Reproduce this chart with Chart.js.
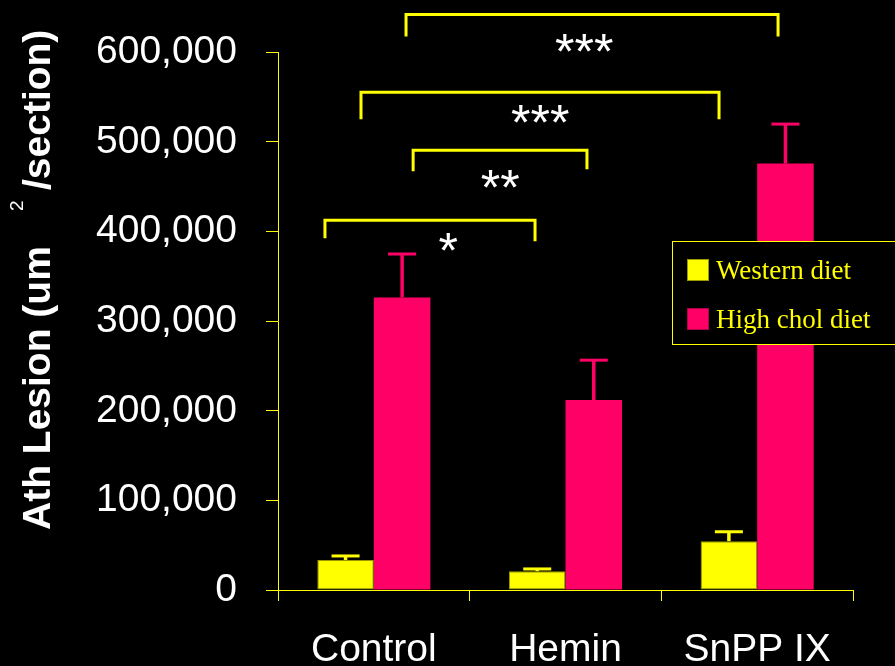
<!DOCTYPE html>
<html>
<head>
<meta charset="utf-8">
<title>Ath Lesion by treatment</title>
<script src="https://cdn.jsdelivr.net/npm/chart.js@4"></script>
<style>
  html, body { margin: 0; padding: 0; background: #000; }
  canvas { display: block; }
</style>
</head>
<body>
<canvas id="chart" width="895" height="666"></canvas>
<script>
// Treatment groups
const categories = ['Control', 'Hemin', 'SnPP IX'];

// Mean lesion area (um^2/section) and upper error (SEM) per diet
const westernDiet = [33500, 21000, 54500];
const westernErr = [4500, 2500, 10500];
const highCholDiet = [326500, 212000, 476000];
const highCholErr = [48500, 44500, 44000];

const seriesNames = ['Western diet', 'High chol diet'];
const seriesColors = ['#FFFF00', '#FF0066'];

// Y axis ticks
const yTicks = [0, 100000, 200000, 300000, 400000, 500000, 600000];

// Significance comparisons: span in category units, bracket height and leg ends in data units
const sigFrom = [0.168, -0.067, 0.205, -0.255];
const sigTo = [2.109, 1.801, 1.112, 0.841];
const sigLevel = [642400, 555400, 490700, 412600];
const sigLegFrom = [617800, 525300, 467300, 392500];
const sigLegTo = [617800, 525300, 469500, 389200];
const sigMarks = ['***', '***', '**', '*'];
const sigMarkPos = [1.098, 0.868, 0.659, 0.388];
const sigMarkLevel = [613000, 534000, 461500, 391300];

const SANS = '"Liberation Sans", Arial, Helvetica, sans-serif';
const SERIF = '"Liberation Serif", "Times New Roman", serif';

function catPixel(xScale, pos) {
  const a = xScale.getPixelForValue(0);
  const b = xScale.getPixelForValue(1);
  return a + pos * (b - a);
}

const backgroundPlugin = {
  id: 'blackBackground',
  beforeDraw(chart) {
    const { ctx, width, height } = chart;
    ctx.save();
    ctx.fillStyle = '#000';
    ctx.fillRect(0, 0, width, height);
    ctx.restore();
  }
};

const errorBarPlugin = {
  id: 'errorBars',
  afterDatasetsDraw(chart) {
    const { ctx } = chart;
    const yScale = chart.scales.y;
    const errs = [westernErr, highCholErr];
    chart.data.datasets.forEach((ds, di) => {
      const meta = chart.getDatasetMeta(di);
      meta.data.forEach((bar, i) => {
        const top = yScale.getPixelForValue(ds.data[i] + errs[di][i]);
        ctx.save();
        ctx.strokeStyle = ds.backgroundColor;
        ctx.lineWidth = 3.5;
        ctx.beginPath();
        ctx.moveTo(bar.x, bar.y);
        ctx.lineTo(bar.x, top);
        ctx.stroke();
        ctx.lineWidth = 3;
        ctx.beginPath();
        ctx.moveTo(bar.x - 14, top);
        ctx.lineTo(bar.x + 14, top);
        ctx.stroke();
        ctx.restore();
      });
    });
  }
};

const significancePlugin = {
  id: 'significance',
  afterDraw(chart) {
    const { ctx } = chart;
    const xs = chart.scales.x;
    const ys = chart.scales.y;
    ctx.save();
    ctx.strokeStyle = '#FFFF00';
    ctx.lineWidth = 3;
    ctx.lineJoin = 'miter';
    for (let k = 0; k < sigFrom.length; k++) {
      const xl = catPixel(xs, sigFrom[k]);
      const xr = catPixel(xs, sigTo[k]);
      const yt = ys.getPixelForValue(sigLevel[k]);
      ctx.beginPath();
      ctx.moveTo(xl, ys.getPixelForValue(sigLegFrom[k]));
      ctx.lineTo(xl, yt);
      ctx.lineTo(xr, yt);
      ctx.lineTo(xr, ys.getPixelForValue(sigLegTo[k]));
      ctx.stroke();
    }
    const size = 50;
    ctx.fillStyle = '#FFFFFF';
    ctx.font = size + 'px ' + SANS;
    ctx.textAlign = 'center';
    ctx.textBaseline = 'alphabetic';
    for (let k = 0; k < sigMarks.length; k++) {
      const x = catPixel(xs, sigMarkPos[k]);
      const y = ys.getPixelForValue(sigMarkLevel[k]) + 0.57 * size;
      ctx.fillText(sigMarks[k], x, y);
    }
    ctx.restore();
  }
};

const legendBoxPlugin = {
  id: 'legendBox',
  afterDraw(chart) {
    const { ctx } = chart;
    ctx.save();
    ctx.fillStyle = '#000';
    ctx.fillRect(672.5, 241.5, 240, 103);
    ctx.strokeStyle = '#FFFF00';
    ctx.lineWidth = 1;
    ctx.strokeRect(672.5, 241.5, 240, 103);
    ctx.font = '27px ' + SERIF;
    ctx.textAlign = 'left';
    ctx.textBaseline = 'alphabetic';
    chart.data.datasets.forEach((ds, i) => {
      const top = 259 + i * 49;
      ctx.fillStyle = ds.backgroundColor;
      ctx.fillRect(687, top, 22, 22);
      ctx.strokeStyle = i === 0 ? '#9a9a00' : '#b0004a';
      ctx.strokeRect(687.5, top + 0.5, 21, 21);
      ctx.fillStyle = '#FFFF00';
      ctx.fillText(ds.label, 716, top + 20);
    });
    ctx.restore();
  }
};

const yTitlePlugin = {
  id: 'yTitle',
  afterDraw(chart) {
    const { ctx } = chart;
    ctx.save();
    ctx.translate(50, 530);
    ctx.rotate(-Math.PI / 2);
    ctx.fillStyle = '#FFFFFF';
    ctx.textAlign = 'left';
    ctx.textBaseline = 'alphabetic';
    ctx.font = 'bold 39px ' + SANS;
    ctx.fillText('Ath Lesion (um', 0, 0);
    ctx.font = '19px ' + SANS;
    ctx.fillText('2', 319, -27);
    ctx.font = 'bold 39px ' + SANS;
    ctx.fillText('/section)', 340, 0);
    ctx.restore();
  }
};

new Chart(document.getElementById('chart'), {
  type: 'bar',
  data: {
    labels: categories,
    datasets: [
      {
        label: seriesNames[0],
        data: westernDiet,
        backgroundColor: seriesColors[0],
        borderColor: '#9a9a00',
        borderWidth: 1,
        borderSkipped: false,
        categoryPercentage: 0.59,
        barPercentage: 1.0
      },
      {
        label: seriesNames[1],
        data: highCholDiet,
        backgroundColor: seriesColors[1],
        borderWidth: 0,
        categoryPercentage: 0.59,
        barPercentage: 1.0
      }
    ]
  },
  options: {
    responsive: false,
    animation: false,
    devicePixelRatio: 1,
    layout: { padding: { top: 52, right: 42, left: 0, bottom: 0 } },
    plugins: {
      legend: { display: false },
      tooltip: { enabled: false },
      title: { display: false }
    },
    scales: {
      x: {
        grid: {
          display: true,
          offset: true,
          drawOnChartArea: false,
          drawTicks: true,
          tickLength: 11,
          color: '#FFFF00',
          lineWidth: 1
        },
        border: { display: true, color: '#FFFF00', width: 1 },
        ticks: {
          color: '#FFFFFF',
          font: { family: SANS, size: 39 },
          padding: 26,
          maxRotation: 0
        },
        afterFit(scale) { scale.height = 76; }
      },
      y: {
        min: yTicks[0],
        max: yTicks[yTicks.length - 1],
        afterBuildTicks(scale) { scale.ticks = yTicks.map(v => ({ value: v })); },
        grid: {
          display: true,
          drawOnChartArea: false,
          drawTicks: true,
          tickLength: 12,
          color: '#FFFF00',
          lineWidth: 1
        },
        border: { display: true, color: '#FFFF00', width: 1 },
        ticks: {
          color: '#FFFFFF',
          font: { family: SANS, size: 39 },
          padding: 29,
          callback: v => Number(v).toLocaleString('en-US')
        },
        afterFit(scale) { scale.width = 278; }
      }
    }
  },
  plugins: [backgroundPlugin, errorBarPlugin, significancePlugin, legendBoxPlugin, yTitlePlugin]
});
</script>
</body>
</html>
